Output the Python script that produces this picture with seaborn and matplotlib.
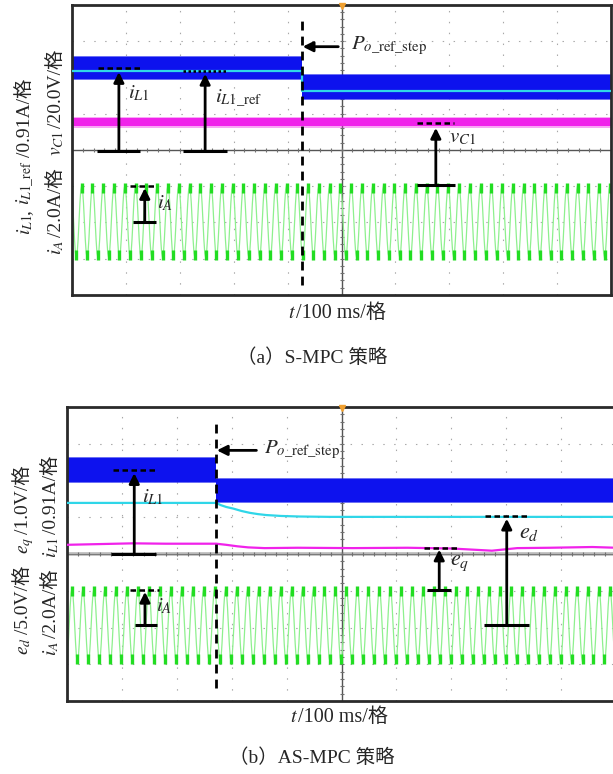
import numpy as np
import pandas as pd
import matplotlib
matplotlib.use("Agg")
import matplotlib.pyplot as plt
import seaborn as sns

# ----------------------------------------------------------------------------
# DATA  (x in ms, 100 ms / division; y in oscilloscope divisions 0..8)
# ----------------------------------------------------------------------------
# panel (a) S-MPC
a_step_ms = 427
a_iL1_level = [6.26, 5.75]        # blue band centre before / after the step
a_iL1_half = [0.31, 0.33]         # blue band half-height (ripple)
a_iL1ref_level = [6.18, 5.64]     # cyan reference before / after
a_vC1_level = [4.77, 4.77]        # magenta band centre before / after
a_vC1_half = 0.12
a_iA_offset = 2.03
a_iA_amp = 1.00
a_iA_first_peak_ms = 18

# panel (b) AS-MPC
b_step_ms = 272
b_iL1_level = [6.28, 5.73]
b_iL1_half = [0.32, 0.32]
b_ed_t = [0, 272, 280, 290, 303, 318, 333, 348, 363, 390, 424, 480, 600, 1000]
b_ed_v = [5.39, 5.39, 5.33, 5.28, 5.235, 5.17, 5.12, 5.085, 5.06, 5.035, 5.02, 5.01, 5.01, 5.01]
b_eq_t = [0, 60, 120, 180, 240, 272, 290, 310, 330, 360, 420, 520, 620, 700, 774, 820, 880, 957, 1000]
b_eq_v = [4.25, 4.27, 4.29, 4.28, 4.28, 4.28, 4.25, 4.21, 4.18, 4.16, 4.17, 4.16, 4.17, 4.15, 4.09, 4.16, 4.17, 4.19, 4.17]
b_iA_offset = 2.06
b_iA_amp = 1.00
b_iA_first_peak_ms = 9

# grid current i_A : 50 Hz, one cycle read as 12 samples (normalised)
iA_freq_hz = 50
iA_cycle = [0.0, 0.50, 0.87, 1.0, 0.87, 0.50, 0.0, -0.50, -0.87, -1.0, -0.87, -0.50]

# text
ylab_a_left = [(r"$i_{L\mathrm{1}}$", 0), (", ", 0), (r"$i_{L\mathrm{1\_ref}}$", 3), ("/0.91A/格", 0)]
ylab_a_right = [(r"$i_A$", 3), ("/2.0A/格", 12), (r"$v_{C\mathrm{1}}$", 3), ("/20.0V/格", 0)]
ylab_b_left = [(r"$e_d$", 3), ("/5.0V/格", 12), (r"$e_q$", 3), ("/1.0V/格", 0)]
ylab_b_right = [(r"$i_A$", 3), ("/2.0A/格", 12), (r"$i_{L\mathrm{1}}$", 3), ("/0.91A/格", 0)]
xlab = [(r"$t$", 1), ("/100 ms/格", 0)]
cap_a = "（a）S-MPC 策略"
cap_b = "（b）AS-MPC 策略"

# ----------------------------------------------------------------------------
W, H = 613, 774
sns.set_style("white")
SERIF_CJK = ["Liberation Serif", "Noto Sans CJK SC"]
plt.rcParams["font.family"] = SERIF_CJK
plt.rcParams["mathtext.fontset"] = "stix"

BLUE = "#0d12ee"
CYAN = "#2fd6e8"
MAGENTA = "#f022ea"
GREEN_LINE = "#8ef08e"
GREEN_PEAK = "#22dd22"

fig = plt.figure(figsize=(W / 100, H / 100), dpi=100)


def px_axes(l, t, r, b):
    return fig.add_axes([l / W, 1 - b / H, (r - l) / W, (b - t) / H])


ax_a = px_axes(72, 5, 611, 295)
ax_b = px_axes(67, 407, 616, 701)


def scope_frame(ax, mid_gray=False):
    ax.set_xlim(0, 1000)
    ax.set_ylim(0, 8)
    ax.set_xticks([])
    ax.set_yticks([])
    for s in ax.spines.values():
        s.set_color("#2a2a2a")
        s.set_linewidth(2.0)
    for k in range(1, 10):
        if k != 5:
            ax.axvline(k * 100, color="#a8a8a8", lw=0.8, dashes=(1.3, 8.5), zorder=0)
    for k in range(1, 8):
        if k != 4:
            ax.axhline(k, color="#a8a8a8", lw=0.8, dashes=(1.3, 8.5), zorder=0)
    if mid_gray:
        ax.axhline(4, color="#b9b9b9", lw=2.6, zorder=0.5)
        ax.axhline(4, color="#707070", lw=0.6, zorder=0.6)
    else:
        ax.axhline(4, color="#555555", lw=1.0, zorder=0.6)
    ax.axvline(500, color="#555555", lw=1.0, zorder=0.6)
    xs = np.arange(20, 1000, 20)
    ax.scatter(xs, np.full(len(xs), 4.0), marker="|", s=12, color="#707070", lw=0.8, zorder=0.7)
    ys = np.arange(0.2, 8, 0.2)
    ax.scatter(np.full(len(ys), 500), ys, marker="_", s=12, color="#707070", lw=0.8, zorder=0.7)
    ax.plot(500, 7.96, marker="v", color="#f0a030", ms=4, clip_on=False, zorder=5)


def band(ax, step, level, half, color, fuzz_alpha=0.6):
    xs = [0, step, step, 1000]
    lo = [level[0] - half[0], level[0] - half[0], level[1] - half[1], level[1] - half[1]]
    hi = [level[0] + half[0], level[0] + half[0], level[1] + half[1], level[1] + half[1]]
    ax.fill_between(xs, [v - 0.03 for v in lo], [v + 0.03 for v in hi], color=color, alpha=fuzz_alpha,
                    lw=0, zorder=1)
    ax.fill_between(xs, lo, hi, color=color, lw=0, zorder=1.1)


def iA_trace(ax, offset, amp, first_peak):
    period = 1000 / iA_freq_hz
    n = len(iA_cycle)
    ncyc = int(1000 / period) + 2
    t0 = first_peak - period / 4 - period
    t = t0 + np.arange(n * ncyc) * period / n
    v = offset + amp * np.tile(np.array(iA_cycle), ncyc)
    df = pd.DataFrame({"t": t, "v": v})
    sns.lineplot(data=df, x="t", y="v", ax=ax, color=GREEN_LINE, lw=0.9, estimator=None, sort=False, zorder=2)
    pk = df[np.isclose(np.abs(df["v"] - offset), amp)]
    ax.scatter(pk["t"], pk["v"] - 0.08 * np.sign(pk["v"] - offset), marker="|", s=55, lw=2.4,
               color=GREEN_PEAK, zorder=2.1)


def flat(ax, step, level, color, lw):
    df = pd.DataFrame({"t": [0, step, step, 1000], "v": [level[0], level[0], level[1], level[1]]})
    sns.lineplot(data=df, x="t", y="v", ax=ax, color=color, lw=lw, estimator=None, sort=False, zorder=3)


def marker_arrow(ax, x, y_bar, y_tip, bar, y_dash, dash, dotted=False):
    ax.plot(bar, [y_bar, y_bar], color="k", lw=2.2, solid_capstyle="butt", zorder=6)
    ax.annotate("", xy=(x, y_tip), xytext=(x, y_bar),
                arrowprops=dict(arrowstyle="-|>", lw=2.0, color="k", mutation_scale=15,
                                shrinkA=0, shrinkB=0), zorder=6)
    ax.plot(dash, [y_dash, y_dash], color="k", lw=1.8,
            dashes=(1.0, 1.0) if dotted else (2.2, 1.4), zorder=6)


def label(ax, x, y, s, fs=15):
    ax.text(x, y, s, fontsize=fs, ha="left", va="center", zorder=7)


# ---------------- panel (a) ----------------
scope_frame(ax_a)
iA_trace(ax_a, a_iA_offset, a_iA_amp, a_iA_first_peak_ms)
band(ax_a, a_step_ms, a_iL1_level, a_iL1_half, BLUE)
flat(ax_a, a_step_ms, a_iL1ref_level, CYAN, 1.6)
band(ax_a, a_step_ms, a_vC1_level, [a_vC1_half, a_vC1_half], MAGENTA, fuzz_alpha=0.4)
ax_a.plot([a_step_ms, a_step_ms], [0.28, 7.72], color="k", lw=2.0, dashes=(3.2, 2.2), zorder=6)

marker_arrow(ax_a, 87, 3.98, 6.15, [46, 126], 6.27, [48, 132])
label(ax_a, 103, 5.55, r"$i_{L\mathrm{1}}$")
marker_arrow(ax_a, 247, 3.98, 6.10, [206, 288], 6.18, [206, 290], dotted=True)
label(ax_a, 266, 5.43, r"$i_{L\mathrm{1\_ref}}$")
marker_arrow(ax_a, 135, 2.02, 2.95, [113, 156], 3.01, [108, 158])
label(ax_a, 157, 2.52, r"$i_A$")
marker_arrow(ax_a, 675, 3.03, 4.61, [640, 711], 4.75, [640, 709])
label(ax_a, 699, 4.33, r"$v_{C\mathrm{1}}$")
ax_a.annotate("", xy=(a_step_ms + 1, 6.85), xytext=(494, 6.85),
              arrowprops=dict(arrowstyle="-|>", lw=2.0, color="k", mutation_scale=15, shrinkA=0, shrinkB=0),
              zorder=6)
label(ax_a, 517, 6.88, r"$P_{o\mathrm{\_ref\_step}}$")

# ---------------- panel (b) ----------------
scope_frame(ax_b, mid_gray=True)
iA_trace(ax_b, b_iA_offset, b_iA_amp, b_iA_first_peak_ms)
band(ax_b, b_step_ms, b_iL1_level, b_iL1_half, BLUE)
sns.lineplot(data=pd.DataFrame({"t": b_ed_t, "v": b_ed_v}), x="t", y="v", ax=ax_b, color=CYAN,
             lw=1.6, estimator=None, sort=False, zorder=3)
sns.lineplot(data=pd.DataFrame({"t": b_eq_t, "v": b_eq_v}), x="t", y="v", ax=ax_b, color=MAGENTA,
             lw=1.6, estimator=None, sort=False, zorder=3)
ax_b.plot([b_step_ms, b_step_ms], [0.35, 7.69], color="k", lw=2.0, dashes=(3.2, 2.2), zorder=6)

marker_arrow(ax_b, 122.5, 4.01, 6.20, [80, 163], 6.28, [83, 166])
label(ax_b, 137, 5.55, r"$i_{L\mathrm{1}}$")
marker_arrow(ax_b, 142, 2.06, 2.97, [124, 164], 3.03, [115, 167])
label(ax_b, 163, 2.56, r"$i_A$")
marker_arrow(ax_b, 678, 3.03, 4.12, [655, 700], 4.17, [650, 712])
label(ax_b, 698, 3.74, r"$e_q$", fs=16)
marker_arrow(ax_b, 801, 2.06, 4.96, [759, 841], 5.03, [761, 843])
label(ax_b, 823, 4.55, r"$e_d$", fs=16)
ax_b.annotate("", xy=(b_step_ms + 1, 6.82), xytext=(345, 6.82),
              arrowprops=dict(arrowstyle="-|>", lw=2.0, color="k", mutation_scale=15, shrinkA=0, shrinkB=0),
              zorder=6)
label(ax_b, 358, 6.82, r"$P_{o\mathrm{\_ref\_step}}$")

for ax in (ax_a, ax_b):
    ax.set_xlabel("")
    ax.set_ylabel("")
    ax.set_xlim(0, 1000)
    ax.set_ylim(0, 8)

# ---------------- chained text (math + CJK) ----------------
renderer = fig.canvas.get_renderer()


def chain(pieces, base, center, vertical, fs=14):
    texts, widths = [], []
    for s, gap in pieces:
        kw = dict(fontsize=fs, ha="left", va="baseline", rotation_mode="anchor")
        if "$" not in s:
            kw["family"] = SERIF_CJK
        t = fig.text(0, 0, s, **kw)
        w = t.get_window_extent(renderer).width
        texts.append(t)
        widths.append(w + gap)
    total = sum(widths) - pieces[-1][1]
    if vertical:
        pos = center + total / 2
        for t, w in zip(texts, widths):
            t.set_rotation(90)
            t.set_position((base / W, 1 - pos / H))
            pos -= w
    else:
        pos = center - total / 2
        for t, w in zip(texts, widths):
            t.set_position((pos / W, 1 - base / H))
            pos += w


chain(ylab_a_left, 30, 157, True)
chain(ylab_a_right, 61, 152, True)
chain(ylab_b_left, 28, 560, True)
chain(ylab_b_right, 56, 556, True)
chain(xlab, 318, 337, False, fs=14.5)
chain(xlab, 722, 339, False, fs=14.5)
fig.text(312 / W, 1 - 363 / H, cap_a, fontsize=14, ha="center", va="baseline", family=SERIF_CJK)
fig.text(312 / W, 1 - 763 / H, cap_b, fontsize=14, ha="center", va="baseline", family=SERIF_CJK)

fig.savefig("out.png", dpi=100)
